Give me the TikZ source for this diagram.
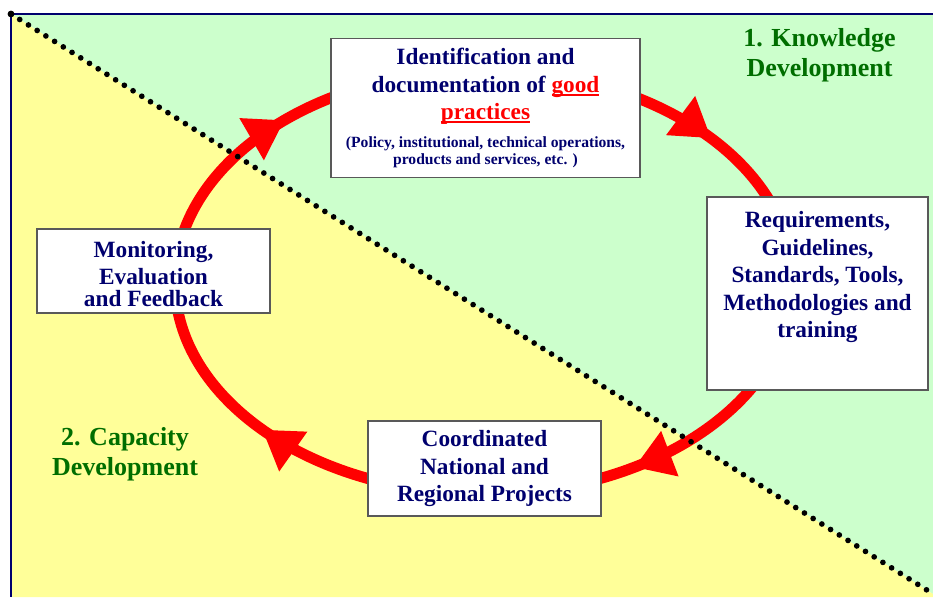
\documentclass[tikz,border=0pt]{standalone}
\usepackage{fontspec}
\setmainfont{Liberation Serif}
\usetikzlibrary{arrows.meta}
\usetikzlibrary{decorations.markings}
\definecolor{kdgreen}{RGB}{204,255,204}
\definecolor{cdyellow}{RGB}{255,255,153}
\definecolor{boxnavy}{RGB}{0,0,110}
\definecolor{phasegreen}{RGB}{0,110,0}
\newcommand{\redul}[1]{\setbox0\hbox{\textcolor{red}{#1}}\rlap{\textcolor{red}{\rule[-3.5pt]{\wd0}{1.8pt}}}\box0}
\newcommand{\subtxt}{\fontsize{15.6}{18}\selectfont}

\begin{document}
\begin{tikzpicture}[x=1pt,y=-1pt,
    box/.style={draw=black!65,line width=1.2pt,fill=white,text=boxnavy,
      font=\bfseries\fontsize{23.3}{27.5}\selectfont,align=center,inner sep=0pt},
    phase/.style={text=phasegreen,font=\bfseries\fontsize{26}{29.5}\selectfont,align=center},
    midtip/.style={decoration={markings,
      mark=at position 0.157 with {\arrow{Triangle[width=46pt,length=38pt]}},
      mark=at position 0.392 with {\arrow{Triangle[width=46pt,length=38pt]}},
      mark=at position 0.624 with {\arrow{Triangle[width=46pt,length=38pt]}},
      mark=at position 0.896 with {\arrow{Triangle[width=46pt,length=38pt]}}},
      postaction={decorate}}]
  \useasboundingbox (0,0) rectangle (933,597);
  % the two halves
  \fill[kdgreen] (11,14) -- (933,14) -- (933,594) -- cycle;
  \fill[cdyellow] (11,14) -- (933,594) -- (933,597) -- (11,597) -- cycle;
  \draw[boxnavy,line width=1.2pt] (933,14) -- (11,14) -- (11,597);
  \fill (11,14) circle (3.4);

  % the cycle
  \coordinate (hub) at (484,282);
  \draw[red,line width=11pt,midtip] (hub) ellipse [x radius=309,y radius=212];

  \node[box,minimum width=309,minimum height=139] (goodprac) at (485.5,108)
    {Identification and\\documentation of \redul{good}\\\redul{practices}\\
     \subtxt(Policy, institutional, technical operations,\\[-10pt]
     \subtxt products and services, etc. )};
  \node[box] (reqs) at (817.5,293.5)
    {\parbox[c][193pt][t]{221pt}{\centering\vspace*{14.6pt}Requirements,\\Guidelines,\\
     Standards, Tools,\\Methodologies and\\training}};
  \node[box,minimum width=233,minimum height=95] (projects) at (484.5,468.5)
    {Coordinated\\National and\\Regional Projects};
  \node[box] (monitor) at (153.5,271)
    {\parbox[c][84pt][t]{233pt}{\centering\vspace*{12pt}Monitoring,\\Evaluation\\[-6pt]and Feedback}};

  % border between the halves
  \draw[line width=5.7pt,line cap=round,dash pattern=on 0pt off 10.3pt] (11,14) -- (930,592);

  \node[phase] (knowdev) at (819.5,55) {1. Knowledge\\Development};
  \node[phase] (capdev) at (125,454) {2. Capacity\\Development};
\end{tikzpicture}
\end{document}
